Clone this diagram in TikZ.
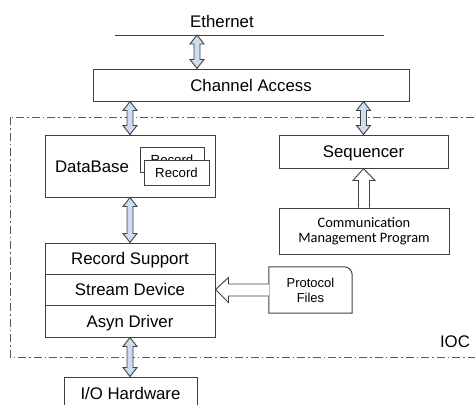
\documentclass[tikz,border=0pt]{standalone}
\usepackage{fontspec}
\setmainfont{Liberation Sans}
\newfontfamily\cmpfont{Carlito}
\usetikzlibrary{calc}

\definecolor{edge}{RGB}{64,64,64}
\definecolor{arrfill}{RGB}{205,220,238}
\definecolor{ioccol}{RGB}{90,90,90}

\tikzset{
  block/.style={draw=edge, line width=1pt, inner sep=0pt, text height=12pt, text depth=0pt,
    font=\fontsize{16.8}{20}\selectfont},
  label/.style={inner sep=0pt, font=\fontsize{16.8}{20}\selectfont},
  recbox/.style={block, fill=white, text height=9.5pt, font=\fontsize{13.2}{15}\selectfont},
  small/.style={inner sep=0pt, align=center, font=\fontsize{13}{15}\selectfont},
  dblarrow/.style={draw=edge, fill=arrfill, line width=0.9pt, line join=miter},
  openarrow/.style={draw=edge, fill=white, line width=0.9pt, line join=miter}
}

% fat double arrow, top point first
\newcommand{\dblarr}[2]{%
  \path[dblarrow] let \p1=(#1), \p2=(#2) in
    (\x1,\y1) -- (\x1+7pt,\y1-9pt) -- (\x1+3pt,\y1-9pt) -- (\x1+3pt,\y2+9pt)
    -- (\x1+7pt,\y2+9pt) -- (\x1,\y2) -- (\x1-7pt,\y2+9pt) -- (\x1-3pt,\y2+9pt)
    -- (\x1-3pt,\y1-9pt) -- (\x1-7pt,\y1-9pt) -- cycle;}

\begin{document}
\begin{tikzpicture}[x=1pt, y=-1pt]
        \useasboundingbox (0,0) rectangle (475,405);
        \clip (0,0) rectangle (475,405);

        \draw [ioccol, line width=1pt, dash pattern=on 8pt off 3pt on 1.5pt off 3pt]
          (10,117) rectangle (490,357);
        \node [label] (ioc) at (455,342) {IOC};

        \node [label] (eth) at (222,21) {Ethernet};
        \coordinate (ethL) at (115,35);
        \coordinate (ethR) at (384,35);
        \draw [edge, line width=1pt] (ethL) -- (ethR);

        \node [block, minimum width=316, minimum height=32] (ca) at (251,85) {Channel Access};

        \node [block, minimum width=170, minimum height=62] (db) at (130,166) {};
        \node [label] (dbtxt) at (92,167) {DataBase};
        \node [recbox, minimum width=64, minimum height=25] (rec1) at (172,159.5) {Record};
        \node [recbox, minimum width=65, minimum height=25] (rec2) at (176.5,172.5) {Record};

        \node [block, minimum width=170, minimum height=31] (rs) at (130,258.5) {Record Support};
        \node [block, minimum width=170, minimum height=31] (sd) at (130,289.5) {Stream Device};
        \node [block, minimum width=170, minimum height=32] (ad) at (130,321) {Asyn Driver};

        \node [block, minimum width=169, minimum height=33] (seq) at (363.5,151.5) {Sequencer};
        \node [draw=edge, line width=1pt, inner sep=0pt, minimum width=170, minimum height=46,
               align=center, font=\cmpfont\fontsize{14.4}{15}\selectfont] (cmp) at (364,231)
               {Communication\\Management Program};

        \node [small, minimum width=83, minimum height=46] (pf) at (310.5,290) {Protocol\\Files};
        \draw [edge, line width=1pt] (pf.north west) -- ([xshift=-8pt]pf.north east)
          arc [start angle=90, end angle=0, radius=8pt] -- (pf.south east)
          -- (pf.south west) -- cycle;

        \node [block, minimum width=133, minimum height=32] (io) at (130.5,393) {I/O Hardware};

        \dblarr{ethL -| 197,0}{ca.north -| 197,0}
        \dblarr{ca.south -| db.north}{db.north}
        \dblarr{ca.south -| seq.north}{seq.north}
        \dblarr{db.south}{rs.north}
        \dblarr{ad.south}{ad.south |- io.north}

        \path [openarrow] let \p1=(cmp.north), \p2=(seq.south) in
          (\x1-5.5pt,\y1) -- (\x1-5.5pt,\y2-12pt) -- (\x1-11pt,\y2-12pt) -- (\x2,\y2)
          -- (\x1+11pt,\y2-12pt) -- (\x1+5.5pt,\y2-12pt) -- (\x1+5.5pt,\y1);
        \path [openarrow] let \p1=(pf.west), \p2=(sd.east) in
          (\x1,\y1+6pt) -- (\x2+13pt,\y1+6pt) -- (\x2+13pt,\y1+12.5pt) -- (\x2,\y2)
          -- (\x2+13pt,\y1-12.5pt) -- (\x2+13pt,\y1-6pt) -- (\x1,\y1-6pt);

      \end{tikzpicture}
\end{document}
